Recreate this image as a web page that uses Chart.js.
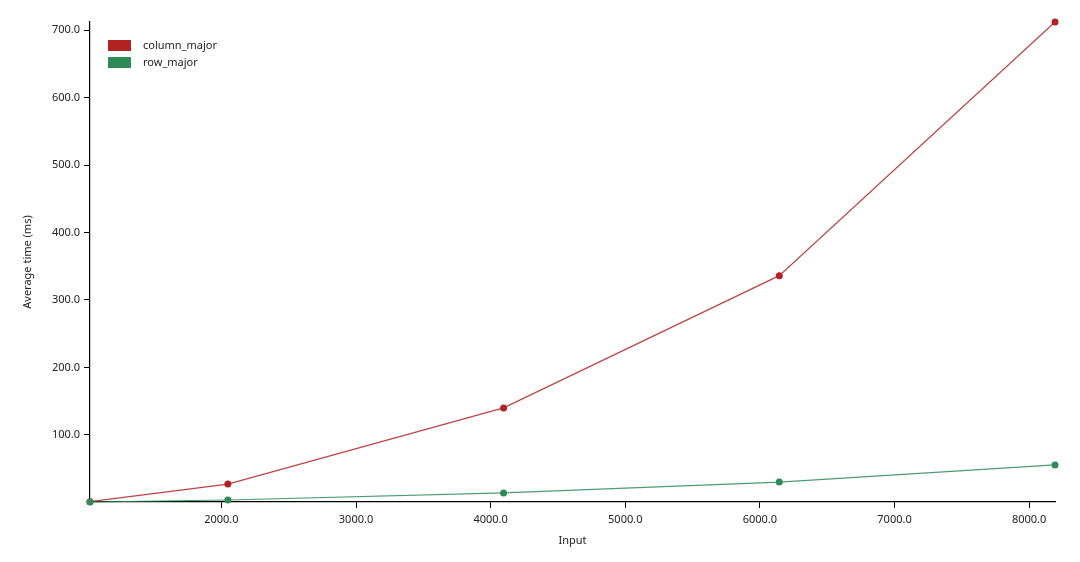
<!DOCTYPE html>
<html>
<head>
<meta charset="utf-8">
<script src="https://cdn.jsdelivr.net/npm/chart.js@4/dist/chart.umd.min.js"></script>
<style>
html,body{margin:0;padding:0;background:#fff;}
#wrap{width:1080px;height:562px;position:relative;}
</style>
</head>
<body>
<div id="wrap"><canvas id="c" width="1080" height="562"></canvas></div>
<script>
const inputs = [1024, 2048, 4096, 6144, 8192];
const columnMajor = [1.0, 27, 140, 336, 712];
const rowMajor = [0.5, 3.5, 14, 30, 55.5];
const xTicks = [2000, 3000, 4000, 5000, 6000, 7000, 8000];
const yTicks = [100, 200, 300, 400, 500, 600, 700];
const seriesNames = ['column_major', 'row_major'];
const seriesColors = ['#b22222', '#2e8b57'];

const FONT = "'Noto Sans', 'DejaVu Sans', sans-serif";

const legendPlugin = {
  id: 'insideLegend',
  afterDraw(chart) {
    const ctx = chart.ctx;
    ctx.save();
    chart.data.datasets.forEach((ds, i) => {
      const y = 40 + i * 17;
      ctx.fillStyle = ds.pointBackgroundColor;
      ctx.fillRect(108, y, 23, 11);
      ctx.fillStyle = '#222';
      ctx.font = "11px " + FONT;
      ctx.textBaseline = 'middle';
      ctx.textAlign = 'left';
      ctx.fillText(ds.label, 143, y + 5.5);
    });
    ctx.restore();
  }
};

function hexA(hex, a) {
  const n = parseInt(hex.slice(1), 16);
  return `rgba(${(n>>16)&255},${(n>>8)&255},${n&255},${a})`;
}

const datasets = [columnMajor, rowMajor].map((vals, i) => ({
  label: seriesNames[i],
  data: inputs.map((x, j) => ({x: x, y: vals[j]})),
  borderColor: hexA(seriesColors[i], 0.85),
  backgroundColor: seriesColors[i],
  pointBackgroundColor: seriesColors[i],
  pointBorderColor: seriesColors[i],
  pointRadius: 3.5,
  pointBorderWidth: 0,
  borderWidth: 1.2,
  tension: 0,
  fill: false,
  clip: false,
  order: 1 - i
}));

new Chart(document.getElementById('c'), {
  type: 'line',
  data: { datasets },
  plugins: [legendPlugin],
  options: {
    responsive: false,
    animation: false,
    events: [],
    layout: { padding: { top: 22, right: 25, bottom: 0, left: 0 } },
    plugins: { legend: { display: false }, tooltip: { enabled: false } },
    scales: {
      x: {
        type: 'linear',
        min: inputs[0],
        max: inputs[inputs.length - 1],
        afterBuildTicks(scale) { scale.ticks = xTicks.map(v => ({ value: v })); },
        afterFit(scale) { scale.height = 60; },
        border: { display: true, color: '#000', width: 1.2 },
        grid: { display: true, drawOnChartArea: false, drawTicks: true, tickLength: 6, color: '#000' },
        ticks: { color: '#222', font: { family: FONT, size: 11 }, padding: 5, maxRotation: 0,
                 callback: v => Number(v).toFixed(1) },
        title: { display: true, text: 'Input', color: '#222', font: { family: FONT, size: 11 }, padding: { top: 0, bottom: 15 } }
      },
      y: {
        type: 'linear',
        min: rowMajor[0],
        max: columnMajor[columnMajor.length - 1],
        afterBuildTicks(scale) { scale.ticks = yTicks.map(v => ({ value: v })); },
        afterFit(scale) { scale.width = 90; },
        border: { display: true, color: '#000', width: 1.2 },
        grid: { display: true, drawOnChartArea: false, drawTicks: true, tickLength: 6, color: '#000' },
        ticks: { color: '#222', font: { family: FONT, size: 11 }, padding: 4,
                 callback: v => Number(v).toFixed(1) },
        title: { display: true, text: 'Average time (ms)', color: '#222', font: { family: FONT, size: 11 }, padding: { top: 21, bottom: 0 } }
      }
    }
  }
});
</script>
</body>
</html>
